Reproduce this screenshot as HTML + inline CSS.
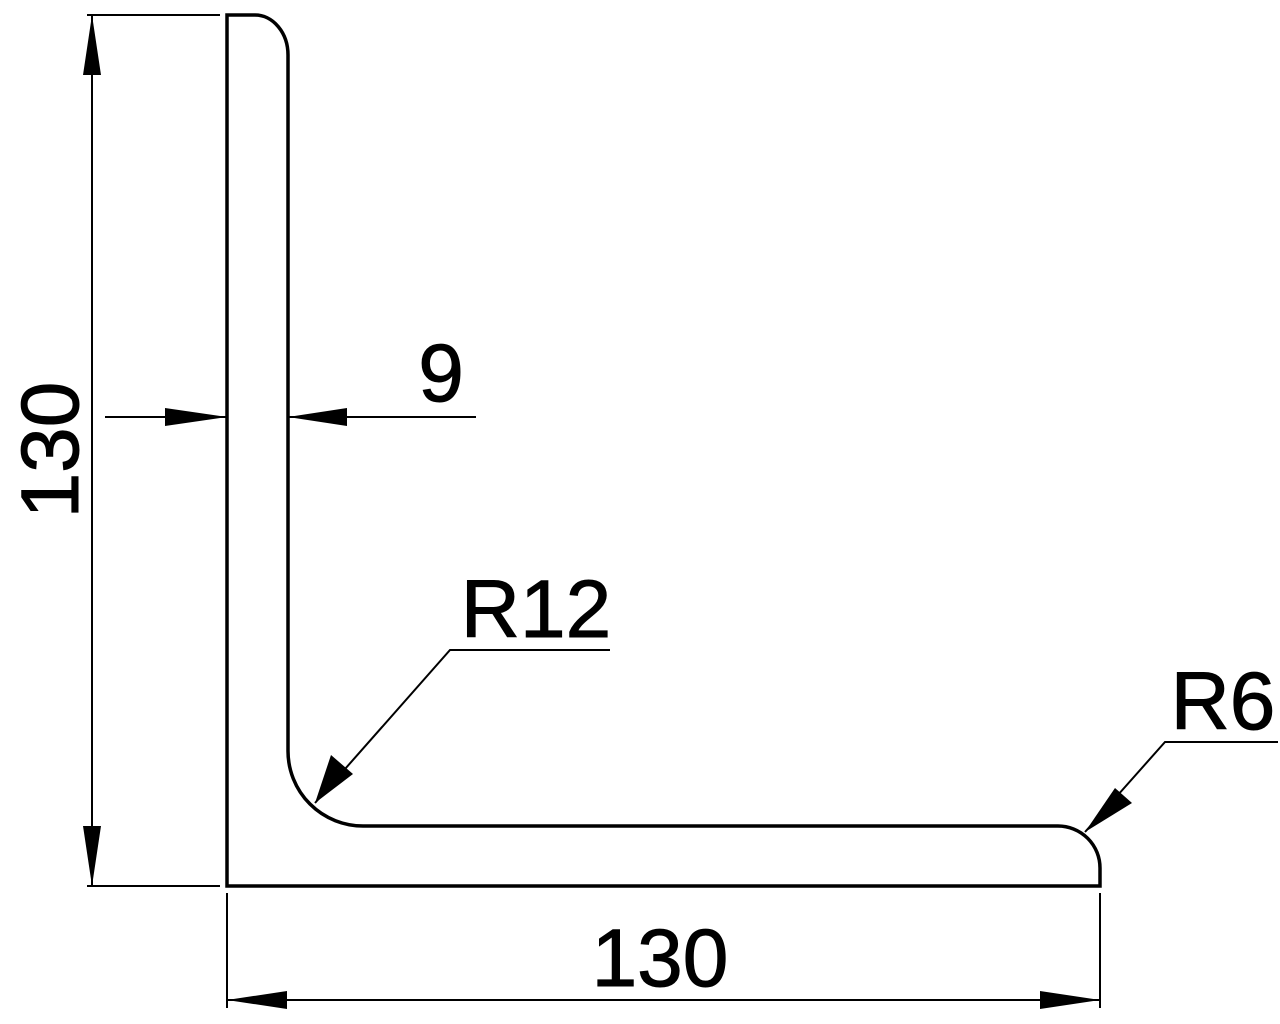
<!DOCTYPE html>
<html><head><style>html,body{margin:0;padding:0;background:#fff;}svg{display:block}</style></head>
<body>
<svg width="1280" height="1024" viewBox="0 0 1280 1024" xmlns="http://www.w3.org/2000/svg">
<g fill="none" stroke="#000">
<path stroke-width="3.5" d="M227,886 L227,15 L255,15 A33,40 0 0 1 288,55 L288,751 A75,75 0 0 0 363,826 L1058,826 A42,42 0 0 1 1100,868 L1100,886 Z"/>
<g stroke-width="2">
<line x1="87" y1="15" x2="220" y2="15"/>
<line x1="87" y1="886" x2="220" y2="886"/>
<line x1="92" y1="15" x2="92" y2="886"/>
<line x1="227" y1="893" x2="227" y2="1008"/>
<line x1="1100" y1="893" x2="1100" y2="1008"/>
<line x1="227" y1="1000" x2="1100" y2="1000"/>
<line x1="105" y1="417" x2="227" y2="417"/>
<line x1="288" y1="417" x2="476" y2="417"/>
<polyline points="315,803 450,650 610,650"/>
<polyline points="1085,832 1165,742 1278,742"/>
</g>
</g>
<g fill="#000">
<polygon points="92,15 83,75 101,75"/>
<polygon points="92,886 83,826 101,826"/>
<polygon points="227,1000 287,991 287,1009"/>
<polygon points="1100,1000 1040,991 1040,1009"/>
<polygon points="227,417 165,408 165,426"/>
<polygon points="288,417 347,408 347,426"/>
<polygon points="315,803 331,755 353,774"/>
<polygon points="1085,832 1115,788 1132,803"/>
</g>
<g font-family="Liberation Sans, sans-serif" font-size="82" fill="#000" stroke="#000" stroke-width="1">
<text x="660" y="986" text-anchor="middle">130</text>
<text x="78" y="450" text-anchor="middle" transform="rotate(-90 78 450)">130</text>
<text x="441" y="401" text-anchor="middle">9</text>
<text x="536" y="637" text-anchor="middle">R12</text>
<text x="1223" y="729" text-anchor="middle">R6</text>
</g>
</svg>
</body></html>
